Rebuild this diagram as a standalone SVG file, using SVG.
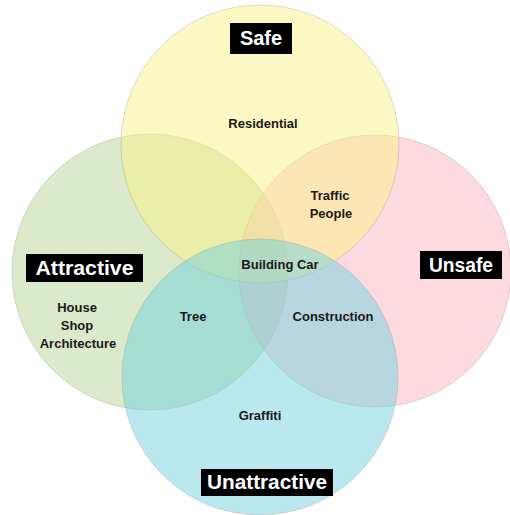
<svg xmlns="http://www.w3.org/2000/svg" width="510" height="515" viewBox="0 0 510 515">
<style>
.c{stroke:#9a9a90;stroke-opacity:0.35;stroke-width:1;fill-opacity:0.5}
.t{font-family:"Liberation Sans",Arial,sans-serif;font-weight:bold;font-size:13px;fill:#1a1a1a;text-anchor:middle}
.lb{fill:#000}
.lt{font-family:"Liberation Sans",Arial,sans-serif;font-weight:bold;font-size:20px;fill:#fff;text-anchor:middle}
</style>
<rect width="510" height="515" fill="#fff"/>
<g id="circles">
<circle id="attractive-circle" class="c" cx="150" cy="272" r="138" fill="#b7d597"/>
<circle id="unsafe-circle" class="c" cx="375" cy="271" r="136" fill="#f9b5c1"/>
<circle id="safe-circle" class="c" cx="260" cy="144" r="139" fill="#f9f187"/>
<circle id="unattractive-circle" class="c" cx="260" cy="377" r="138" fill="#73d1dd"/>
</g>
<g id="safe">
<rect class="lb" x="230" y="23" width="62" height="31"/>
<text class="lt" x="261" y="45" font-size="21">Safe</text>
</g>
<g id="attractive">
<rect class="lb" x="26" y="254" width="117" height="28"/>
<text class="lt" x="84.5" y="275" textLength="98" lengthAdjust="spacingAndGlyphs">Attractive</text>
</g>
<g id="unsafe">
<rect class="lb" x="420" y="251" width="82" height="28"/>
<text class="lt" x="461" y="272" textLength="64" lengthAdjust="spacingAndGlyphs">Unsafe</text>
</g>
<g id="unattractive">
<rect class="lb" x="201" y="469" width="132" height="27"/>
<text class="lt" x="267" y="489" textLength="120" lengthAdjust="spacingAndGlyphs">Unattractive</text>
</g>
<g id="residential"><text class="t" x="263" y="128">Residential</text></g>
<g id="traffic-people"><text class="t" x="330" y="200">Traffic</text><text class="t" x="331" y="218">People</text></g>
<g id="building-car"><text class="t" x="280" y="269">Building Car</text></g>
<g id="tree"><text class="t" x="193" y="321">Tree</text></g>
<g id="construction"><text class="t" x="333" y="321">Construction</text></g>
<g id="house-shop-architecture"><text class="t" x="77" y="312">House</text><text class="t" x="77" y="330">Shop</text><text class="t" x="78" y="348">Architecture</text></g>
<g id="graffiti"><text class="t" x="260" y="420">Graffiti</text></g>
<g id="connectors"/>
</svg>
